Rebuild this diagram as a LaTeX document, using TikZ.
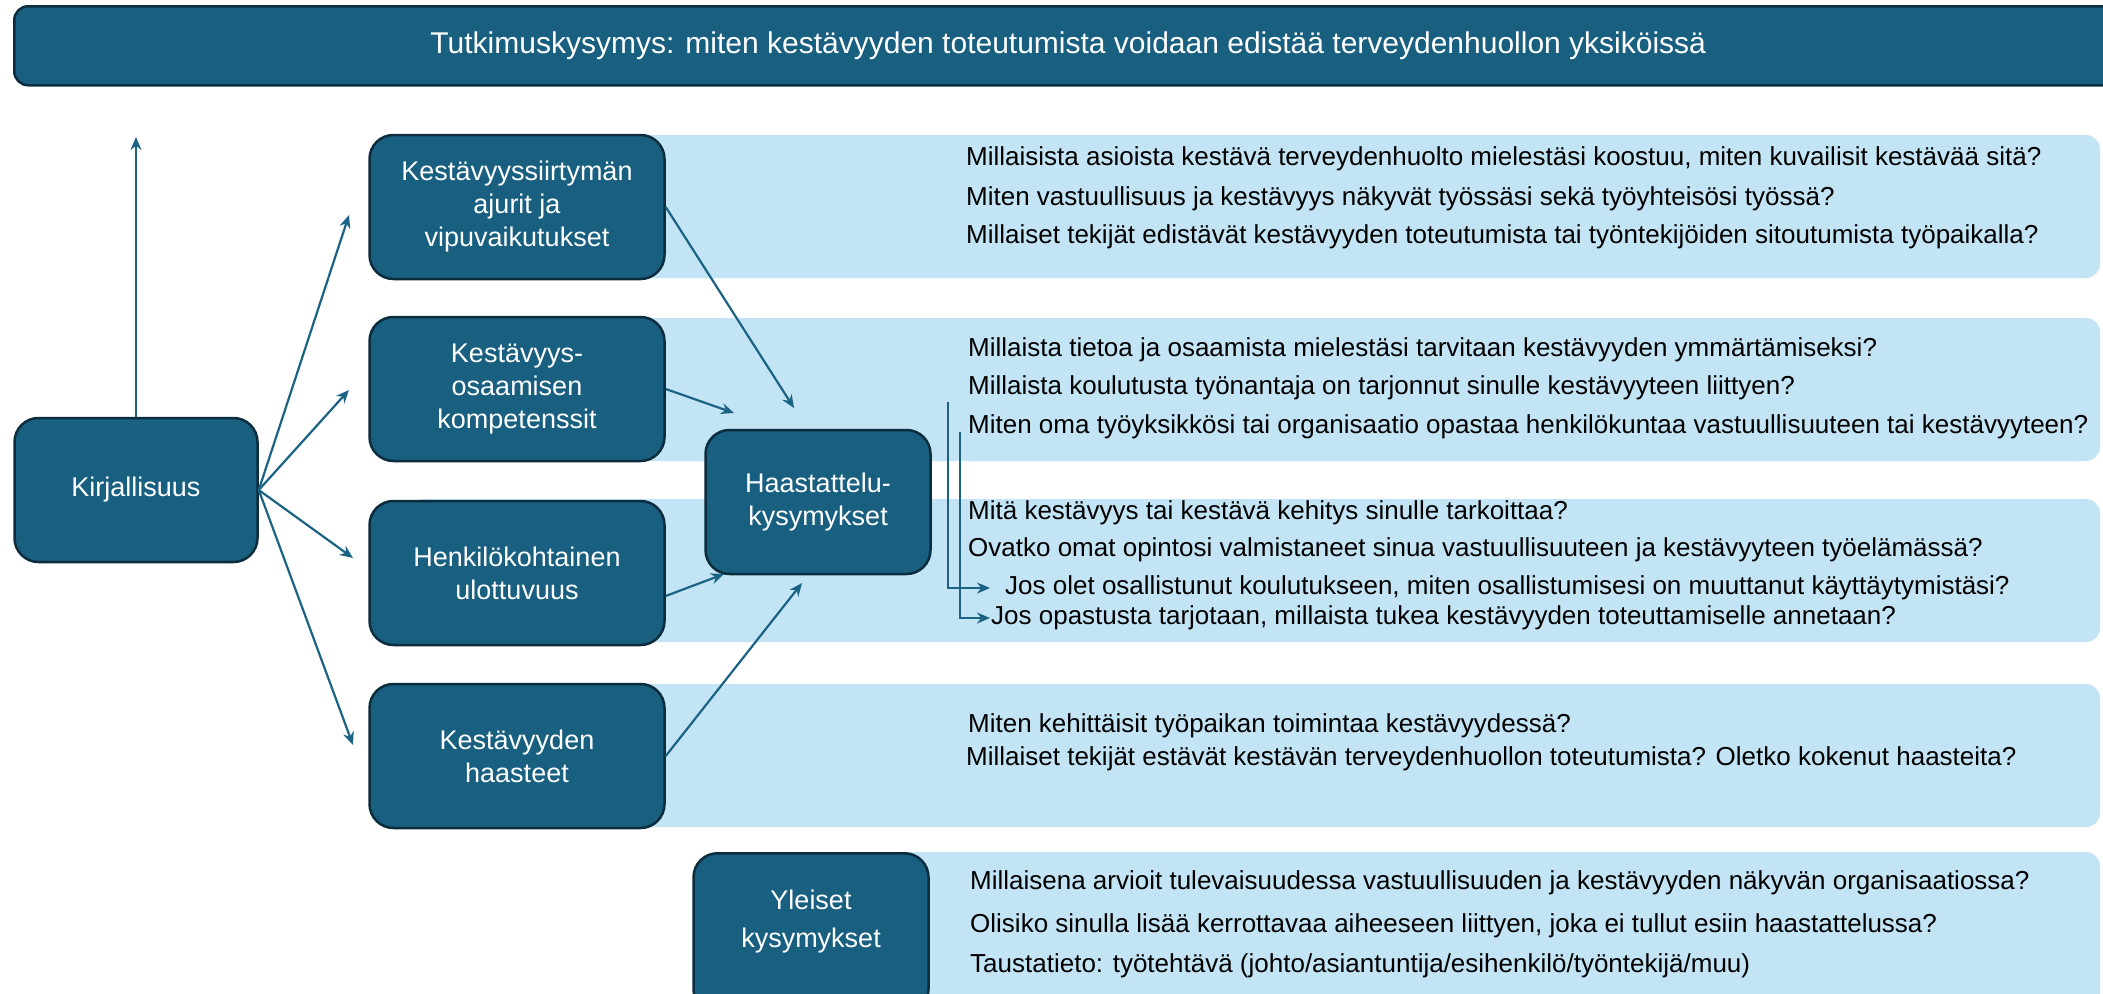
\documentclass[tikz,border=0pt]{standalone}
\usepackage{fontspec}
\setmainfont{Liberation Sans}
\usetikzlibrary{arrows.meta,calc}
\definecolor{boxfill}{HTML}{185F80}
\definecolor{boxline}{HTML}{0C2D3E}
\definecolor{bandfill}{HTML}{C2E4F4}
\definecolor{arrcol}{HTML}{1B6384}
\begin{document}
\begin{tikzpicture}[x=1pt,y=-1pt,
  dbox/.style={draw=boxline, fill=boxfill, line width=2.5pt, rounded corners=24pt, text=white, align=center,
    minimum width=295pt, minimum height=144pt, inner sep=0pt, font=\fontsize{27}{33}\selectfont},
  band/.style={fill=bandfill, draw=none, rounded corners=14pt},
  qtext/.style={anchor=west, inner sep=0pt, font=\fontsize{26}{30}\selectfont, text=black},
  arr/.style={draw=arrcol, line width=2.2pt, -{Stealth[length=13pt,width=11pt]}}]
\clip (0,0) rectangle (2103,993);
\fill[white] (0,0) rectangle (2103,993);
% title
\node[draw=boxline, fill=boxfill, line width=2.5pt, rounded corners=14pt, anchor=north west,
  minimum width=2130pt, minimum height=79pt, inner sep=0pt, text=white, font=\fontsize{30}{34}\selectfont]
  (title) at (13,5) {\hspace*{-22pt}Tutkimuskysymys: miten kestävyyden toteutumista voidaan edistää terveydenhuollon yksiköissä};
% bands
\path[band] (600,135) rectangle (2100,278) node[pos=0,inner sep=0pt] (band1) {};
\path[band] (600,318) rectangle (2100,461) node[pos=0,inner sep=0pt] (band2) {};
\path[band] (410,499) rectangle (2100,642) node[pos=0,inner sep=0pt] (band3) {};
\path[band] (600,684) rectangle (2100,827) node[pos=0,inner sep=0pt] (band4) {};
\path[band] (750,852) rectangle (2100,1030) node[pos=0,inner sep=0pt] (band5) {};
% boxes
\node[dbox, minimum width=243pt] (kir) at (136,490) {Kirjallisuus};
\node[dbox] (b1) at (517,207) {Kestävyyssiirtymän\\ajurit ja\\vipuvaikutukset};
\node[dbox] (b2) at (517,389) {Kestävyys-\\osaamisen\\kompetenssit};
\node[dbox] (b3) at (517,573) {Henkilökohtainen\\ulottuvuus};
\node[dbox] (b4) at (517,756) {Kestävyyden\\haasteet};
\node[dbox, minimum width=225pt] (haas) at (818,502) {Haastattelu-\\kysymykset};
\node[dbox, minimum width=235pt, minimum height=160pt, anchor=north] (yle) at (811,852)
  {\raisebox{5pt}[0pt][0pt]{\begin{tabular}{@{}c@{}}Yleiset\\[5pt]kysymykset\end{tabular}}};
% questions
\node[qtext] (q11) at (966,159) {Millaisista asioista kestävä terveydenhuolto mielestäsi koostuu, miten kuvailisit kestävää sitä?};
\node[qtext] (q12) at (966,199) {Miten vastuullisuus ja kestävyys näkyvät työssäsi sekä työyhteisösi työssä?};
\node[qtext] (q13) at (966,237) {Millaiset tekijät edistävät kestävyyden toteutumista tai työntekijöiden sitoutumista työpaikalla?};
\node[qtext] (q21) at (968,350) {Millaista tietoa ja osaamista mielestäsi tarvitaan kestävyyden ymmärtämiseksi?};
\node[qtext] (q22) at (968,388) {Millaista koulutusta työnantaja on tarjonnut sinulle kestävyyteen liittyen?};
\node[qtext] (q23) at (968,427) {Miten oma työyksikkösi tai organisaatio opastaa henkilökuntaa vastuullisuuteen tai kestävyyteen?};
\node[qtext] (q31) at (968,513) {Mitä kestävyys tai kestävä kehitys sinulle tarkoittaa?};
\node[qtext] (q32) at (968,550) {Ovatko omat opintosi valmistaneet sinua vastuullisuuteen ja kestävyyteen työelämässä?};
\node[qtext] (q33) at (1005,588) {Jos olet osallistunut koulutukseen, miten osallistumisesi on muuttanut käyttäytymistäsi?};
\node[qtext] (q34) at (991,618) {Jos opastusta tarjotaan, millaista tukea kestävyyden toteuttamiselle annetaan?};
\node[qtext] (q41) at (968,726) {Miten kehittäisit työpaikan toimintaa kestävyydessä?};
\node[qtext] (q42) at (966,759) {Millaiset tekijät estävät kestävän terveydenhuollon toteutumista? Oletko kokenut haasteita?};
\node[qtext] (q51) at (970,883) {Millaisena arvioit tulevaisuudessa vastuullisuuden ja kestävyyden näkyvän organisaatiossa?};
\node[qtext] (q52) at (970,926) {Olisiko sinulla lisää kerrottavaa aiheeseen liittyen, joka ei tullut esiin haastattelussa?};
\node[qtext] (q53) at (970,966) {Taustatieto: työtehtävä (johto/asiantuntija/esihenkilö/työntekijä/muu)};
% free ends
\coordinate (up) at (136,137);
\coordinate (t1) at (349,215);
\coordinate (t2) at (349,390);
\coordinate (t3) at (353,558);
\coordinate (t4) at (353,745);
\coordinate (h1) at (794,408);
\coordinate (h2) at (734,413);
\coordinate (h3) at (724,574);
\coordinate (h4) at (802,583);
\coordinate (l1) at (948,402);
\coordinate (l2) at (960,432);
% connectors
\draw[arr] (kir.north) -- (up);
\draw[arr] (kir.east) -- (t1);
\draw[arr] (kir.east) -- (t2);
\draw[arr] (kir.east) -- (t3);
\draw[arr] (kir.east) -- (t4);
\draw[arr] (b1.east) -- (h1);
\draw[arr] (b2.east) -- (h2);
\draw[arr] ([yshift=-23pt]b3.east) -- (h3);
\draw[arr] (b4.east) -- (h4);
\draw[arr] (l1) |- ([xshift=-15pt]q33.west);
\draw[arr] (l2) |- ([xshift=-1pt]q34.west);
\end{tikzpicture}
\end{document}
